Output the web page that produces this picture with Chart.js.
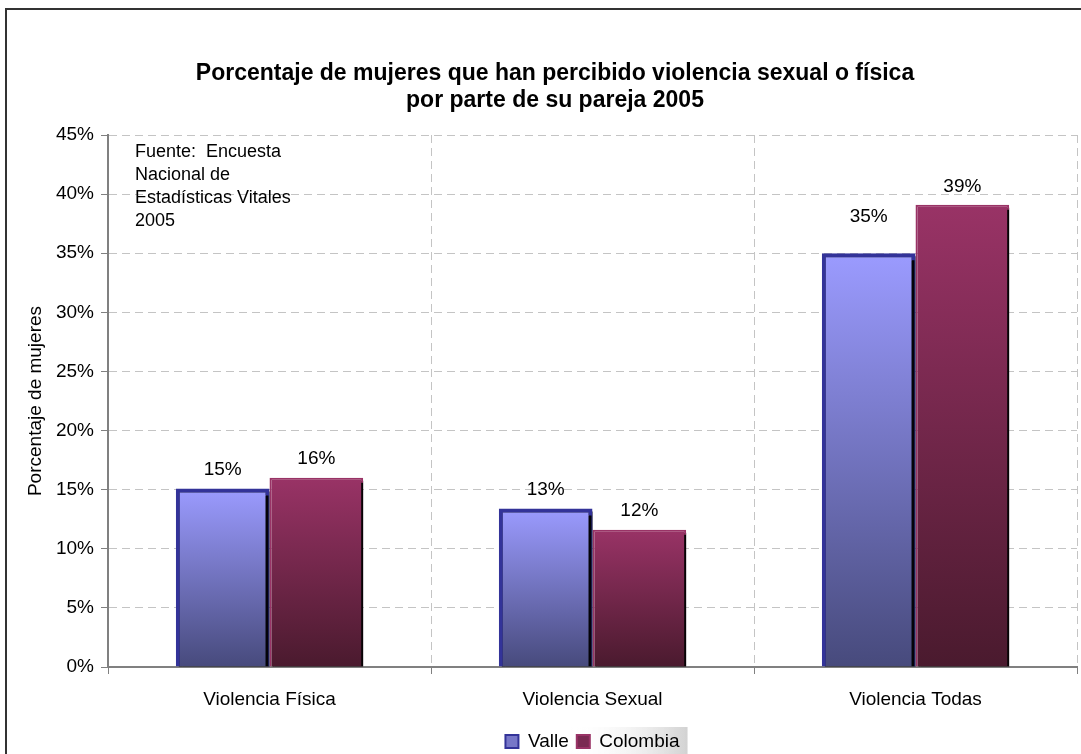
<!DOCTYPE html>
<html><head><meta charset="utf-8">
<script src="https://cdn.jsdelivr.net/npm/chart.js@4.4.0/dist/chart.umd.min.js"></script>
<style>
html,body{margin:0;padding:0;background:#fff;overflow:hidden;}
#wrap{position:absolute;left:0;top:0;width:1081px;height:754px;overflow:hidden;}
#frame{position:absolute;left:5px;top:8px;width:1200px;height:900px;border-left:2px solid #333;border-top:2px solid #333;}
canvas{position:absolute;left:0;top:0;}
</style></head><body>
<div id="wrap"><div id="frame"></div><canvas id="c" width="1081" height="754"></canvas></div>
<script>
// ---- data ----
const categories = ['Violencia Física', 'Violencia Sexual', 'Violencia Todas'];
const seriesNames = ['Valle', 'Colombia'];
const valle = [15.1, 13.4, 35.0];
const colombia = [16.0, 11.6, 39.1];
const yMin = 0, yMax = 45, yStep = 5;
const titleLines = ['Porcentaje de mujeres que han percibido violencia sexual o física', 'por parte de su pareja 2005'];
const yAxisTitle = 'Porcentaje de mujeres';
const sourceNote = ['Fuente:  Encuesta', 'Nacional de', 'Estadísticas Vitales', '2005'];

// ---- styles ----
const FONT = '"Liberation Sans", Arial, Helvetica, sans-serif';
const labelLift = [[19, 19, 36], [19, 19, 18]];

function barGradient(topColor, bottomColor) {
  return (ctx) => {
    const chart = ctx.chart;
    const ys = chart.scales && chart.scales.y;
    if (!ys || ctx.type !== 'data') return topColor;
    const v = ctx.raw;
    const y0 = ys.getPixelForValue(v), y1 = ys.getPixelForValue(0);
    if (!isFinite(y0) || !isFinite(y1) || y0 === y1) return topColor;
    const g = chart.ctx.createLinearGradient(0, y0, 0, y1);
    g.addColorStop(0, topColor);
    g.addColorStop(1, bottomColor);
    return g;
  };
}

const deco = {
  id: 'deco',
  beforeDraw(chart) {
    const c = chart.ctx;
    const lg = chart.legend;
    if (lg && lg.legendHitBoxes && lg.legendHitBoxes[1]) {
      const hb = lg.legendHitBoxes[1];
      const x0 = hb.left - 6, x1 = hb.left + hb.width + 8;
      const g = c.createLinearGradient(x0, 0, x1, 0);
      g.addColorStop(0, 'rgba(255,255,255,0)');
      g.addColorStop(1, '#d2d2d2');
      c.save();
      c.fillStyle = g;
      c.fillRect(x0, hb.top - 5, x1 - x0, hb.height + 10);
      c.restore();
    }
    // title
    c.save();
    c.fillStyle = '#000';
    c.font = 'bold 23px ' + FONT;
    c.textAlign = 'center';
    c.textBaseline = 'middle';
    titleLines.forEach((t, i) => c.fillText(t, 555, 74 + i * 27));
    c.restore();
  },
  beforeDatasetDraw(chart) {
    const c = chart.ctx;
    c.save();
    c.shadowColor = 'rgba(0,0,0,0.95)';
    c.shadowOffsetX = 3;
    c.shadowOffsetY = 3;
    c.shadowBlur = 0;
  },
  afterDatasetDraw(chart) {
    chart.ctx.restore();
  },
  afterDatasetsDraw(chart) {
    const c = chart.ctx;
    c.save();
    c.fillStyle = '#000';
    c.font = '19px ' + FONT;
    c.textAlign = 'center';
    c.textBaseline = 'middle';
    chart.data.datasets.forEach((ds, di) => {
      const meta = chart.getDatasetMeta(di);
      meta.data.forEach((bar, i) => {
        c.fillText(Math.round(ds.data[i]) + '%', bar.x, bar.y - labelLift[di][i]);
      });
    });
    // source note
    c.font = '18px ' + FONT;
    c.textAlign = 'left';
    const a = chart.chartArea;
    sourceNote.forEach((t, i) => c.fillText(t, a.left + 27, a.top + 17 + i * 23));
    c.restore();
  }
};

new Chart(document.getElementById('c'), {
  type: 'bar',
  data: {
    labels: categories,
    datasets: [
      {
        label: seriesNames[0], data: valle,
        backgroundColor: barGradient('#9b9bff', '#474a7c'),
        borderColor: '#333399', borderWidth: 4, borderSkipped: 'bottom',
        barPercentage: 1.0, categoryPercentage: 0.58
      },
      {
        label: seriesNames[1], data: colombia,
        backgroundColor: barGradient('#993366', '#4a1a2e'),
        borderColor: '#993366', borderWidth: 2, borderSkipped: 'bottom',
        barPercentage: 1.0, categoryPercentage: 0.58
      }
    ]
  },
  options: {
    responsive: false,
    animation: false,
    devicePixelRatio: 1,
    layout: { padding: { left: 0, right: 4, top: 135, bottom: -7 } },
    plugins: {
      title: { display: false },
      tooltip: { enabled: false },
      legend: {
        position: 'bottom',
        fullSize: false,
        labels: {
          font: { family: FONT, size: 19 },
          color: '#000',
          boxWidth: 13, boxHeight: 13, padding: 8,
          generateLabels: () => [
            { text: seriesNames[0], fillStyle: '#7777c8', strokeStyle: '#333399', lineWidth: 2, datasetIndex: 0, fontColor: '#000' },
            { text: seriesNames[1], fillStyle: '#7a2a52', strokeStyle: '#993366', lineWidth: 2, datasetIndex: 1, fontColor: '#000' }
          ]
        }
      }
    },
    scales: {
      x: {
        afterFit(s) { s.height = 57; },
        grid: { display: true, offset: true, color: '#c4c4c4', tickLength: 7, tickColor: '#808080', tickBorderDash: [] },
        border: { display: true, color: '#808080', width: 2, dash: [8, 5] },
        ticks: { color: '#000', font: { family: FONT, size: 19 }, padding: 14, maxRotation: 0 }
      },
      y: {
        min: yMin, max: yMax,
        afterFit(s) { s.width = 108; },
        grid: { color: '#c4c4c4', tickLength: 7, tickColor: '#808080', tickBorderDash: [] },
        border: { display: true, color: '#808080', width: 2, dash: [8, 5] },
        ticks: { stepSize: yStep, color: '#000', font: { family: FONT, size: 19 }, padding: 7, callback: (v) => v + '%' },
        title: { display: true, text: yAxisTitle, color: '#000', font: { family: FONT, size: 19 }, padding: { top: 24, bottom: 0 } }
      }
    }
  },
  plugins: [deco]
});
</script>
</body></html>
